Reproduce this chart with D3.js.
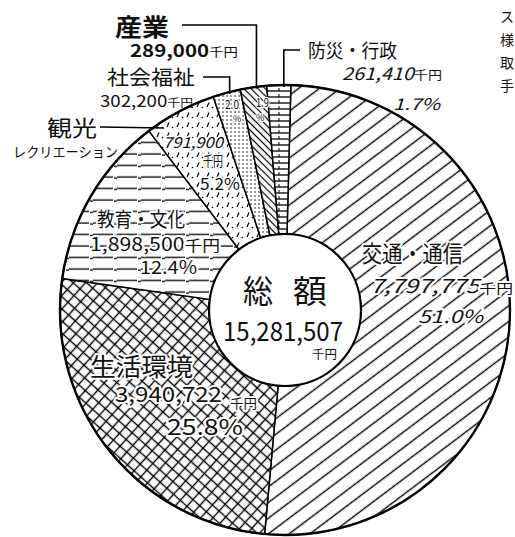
<!DOCTYPE html>
<html>
<head>
<meta charset="utf-8">
<script src="https://cdn.jsdelivr.net/npm/d3@7"></script>
<style>
  html, body { margin: 0; padding: 0; background: #fff; }
  svg { display: block; }
  text { font-family: "Noto Sans CJK JP", "Noto Sans CJK SC", sans-serif; fill: #111; }
</style>
</head>
<body>
<svg id="chart" width="515" height="537"></svg>
<script>
// ---- data ----
const categories = ["交通・通信", "生活環境", "教育・文化", "観光レクリエーション", "社会福祉", "産業", "防災・行政"];
const amounts = [7797775, 3940722, 1898500, 791900, 302200, 289000, 261410];
const percents = [51.0, 25.8, 12.4, 5.2, 2.0, 1.9, 1.7];
const totalLabel = "総額";
const totalAmount = 15281507;
const unit = "千円";

// ---- layout ----
const W = 515, H = 537;
const cx = 285, cy = 310, R = 225, r0 = 76;
const offset = 1.5 * Math.PI / 180;
const patterns = ["p-diag", "p-cross", "p-horiz", "p-dash", "p-dots", "p-back", "p-ladder"];

const svg = d3.select("#chart");
svg.append("rect").attr("width", W).attr("height", H).attr("fill", "#fff");
const defs = svg.append("defs");

function linePattern(id, spacing, angle, width) {
  const p = defs.append("pattern").attr("id", id)
    .attr("patternUnits", "userSpaceOnUse")
    .attr("width", spacing).attr("height", spacing)
    .attr("patternTransform", `rotate(${angle})`);
  p.append("rect").attr("width", spacing).attr("height", spacing).attr("fill", "#fff");
  p.append("line").attr("x1", 0).attr("y1", spacing / 2).attr("x2", spacing).attr("y2", spacing / 2)
    .attr("stroke", "#000").attr("stroke-width", width);
  return p;
}
linePattern("p-diag", 12.5, -37, 1.4);
{
  const s = 9;
  const p = defs.append("pattern").attr("id", "p-cross").attr("patternUnits", "userSpaceOnUse")
    .attr("width", s).attr("height", s).attr("patternTransform", "rotate(42)");
  p.append("rect").attr("width", s).attr("height", s).attr("fill", "#fff");
  p.append("line").attr("x1", 0).attr("y1", s / 2).attr("x2", s).attr("y2", s / 2).attr("stroke", "#000").attr("stroke-width", 1.4);
  p.append("line").attr("x1", s / 2).attr("y1", 0).attr("x2", s / 2).attr("y2", s).attr("stroke", "#000").attr("stroke-width", 1.4);
}
{
  const w = 24, h = 11.5;
  const p = defs.append("pattern").attr("id", "p-horiz").attr("patternUnits", "userSpaceOnUse")
    .attr("width", w).attr("height", h);
  p.append("rect").attr("width", w).attr("height", h).attr("fill", "#fff");
  p.append("line").attr("x1", 0).attr("y1", 5).attr("x2", 20).attr("y2", 5).attr("stroke", "#000").attr("stroke-width", 1.3);
  p.append("line").attr("x1", 21).attr("y1", 6).attr("x2", 24).attr("y2", 6).attr("stroke", "#000").attr("stroke-width", 1.3);
}
{
  const s = 10;
  const p = defs.append("pattern").attr("id", "p-dash").attr("patternUnits", "userSpaceOnUse")
    .attr("width", s).attr("height", s);
  p.append("rect").attr("width", s).attr("height", s).attr("fill", "#fff");
  p.append("line").attr("x1", 2).attr("y1", 7).attr("x2", 4).attr("y2", 2.5).attr("stroke", "#000").attr("stroke-width", 1.2);
  p.append("circle").attr("cx", 7.5).attr("cy", 7.5).attr("r", 0.8).attr("fill", "#000");
}
{
  const s = 4;
  const p = defs.append("pattern").attr("id", "p-dots").attr("patternUnits", "userSpaceOnUse")
    .attr("width", s).attr("height", s);
  p.append("rect").attr("width", s).attr("height", s).attr("fill", "#fff");
  p.append("circle").attr("cx", 2).attr("cy", 2).attr("r", 0.75).attr("fill", "#000");
}
linePattern("p-back", 5, 45, 1.2);
{
  const s = 6;
  const p = defs.append("pattern").attr("id", "p-ladder").attr("patternUnits", "userSpaceOnUse")
    .attr("width", 12).attr("height", s);
  p.append("rect").attr("width", 12).attr("height", s).attr("fill", "#fff");
  p.append("line").attr("x1", 0).attr("y1", 3).attr("x2", 12).attr("y2", 3).attr("stroke", "#000").attr("stroke-width", 1.3);
  p.append("line").attr("x1", 6).attr("y1", 0).attr("x2", 6).attr("y2", 3).attr("stroke", "#000").attr("stroke-width", 1);
}

const data = categories.map((c, i) => ({ cat: c, amount: amounts[i], pct: percents[i], pat: patterns[i] }));
const pie = d3.pie().sort(null).value(d => d.amount).startAngle(offset).endAngle(offset + 2 * Math.PI);
const arcs = pie(data);
const arc = d3.arc().innerRadius(r0).outerRadius(R);

const g = svg.append("g").attr("transform", `translate(${cx},${cy})`);
g.selectAll("path.slice").data(arcs).join("path")
  .attr("class", "slice")
  .attr("d", arc)
  .attr("fill", d => `url(#${d.data.pat})`)
  .attr("stroke", "#000").attr("stroke-width", 1.5);
g.append("circle").attr("r", R).attr("fill", "none").attr("stroke", "#000").attr("stroke-width", 2.4);
g.append("circle").attr("r", r0).attr("fill", "#fff").attr("stroke", "#000").attr("stroke-width", 2.2);

// ---- leader lines ----
const fmt = d3.format(",");
const midX = a => cx + R * Math.sin((a.startAngle + a.endAngle) / 2);
const edgeY = x => cy - Math.sqrt(R * R - (x - cx) * (x - cx));
const leaders = svg.append("g").attr("fill", "none").attr("stroke", "#000").attr("stroke-width", 1.6);
{
  const a = arcs[5]; const x = midX(a) + 3;
  leaders.append("path").attr("d", `M182,25 H${x} V${edgeY(x) + 2}`);
}
{
  const a = arcs[4]; const x = midX(a) + 3;
  leaders.append("path").attr("d", `M203,77 H${x} V${edgeY(x) + 2}`);
}
{
  const a = arcs[6]; const x = midX(a) + 5;
  leaders.append("path").attr("d", `M300,50 H${x} V${edgeY(x) + 2}`);
}
{
  const y = 127; const x = cx - Math.sqrt(R * R - (y - cy) * (y - cy));
  leaders.append("path").attr("d", `M100,${y} L${x + 10},${y + 1}`);
}

// ---- labels ----
const labels = svg.append("g");
function label(parts, x, y, opts = {}) {
  const t = labels.append("text").attr("x", x).attr("y", y)
    .attr("stroke", "#fff").attr("stroke-width", opts.halo == null ? 4 : opts.halo)
    .attr("paint-order", "stroke").attr("stroke-linejoin", "round");
  if (opts.anchor) t.attr("text-anchor", opts.anchor);
  parts.forEach(p => {
    const s = t.append("tspan").text(p.t).attr("font-size", p.size)
      .attr("font-weight", p.bold ? 700 : 400);
    if (p.italic) s.attr("font-style", "italic");
  });
  if (opts.len) t.attr("textLength", opts.len).attr("lengthAdjust", "spacingAndGlyphs");
  return t;
}
const pctText = v => v.toFixed(1) + "%";
const catText = i => categories[i];

// 産業
label([{ t: catText(5), size: 24, bold: true }], 115, 36, { len: 54, halo: 0 });
label([{ t: fmt(amounts[5]), size: 17, bold: true }, { t: unit, size: 12 }], 130, 57, { len: 108, halo: 0 });
// 社会福祉
label([{ t: catText(4), size: 20 }], 107, 85, { len: 88, halo: 0 });
label([{ t: fmt(amounts[4]), size: 16 }, { t: unit, size: 11 }], 100, 107, { len: 93, halo: 0 });
// 観光
label([{ t: "観光", size: 22 }], 47, 136, { len: 50, halo: 0 });
label([{ t: "レクリエーション", size: 14 }], 13, 157, { len: 105, halo: 0 });
label([{ t: fmt(amounts[3]), size: 15, italic: true }], 163, 148, { len: 60, halo: 3 });
label([{ t: unit, size: 14 }], 203, 166, { len: 20, halo: 3 });
label([{ t: pctText(percents[3]), size: 16 }], 200, 190, { len: 40, halo: 3 });
// small slices
label([{ t: pctText(percents[4]).replace("%", ""), size: 12 }], 225, 109, { halo: 2.5, len: 14 });
label([{ t: "%", size: 9 }], 233, 122, { halo: 2 });
label([{ t: pctText(percents[5]).replace("%", ""), size: 12 }], 256, 107, { halo: 2.5, len: 13 });
label([{ t: "%", size: 9 }], 256, 121, { halo: 2 });
// 防災・行政
label([{ t: catText(6), size: 19 }], 308, 58, { len: 89, halo: 0 });
label([{ t: fmt(amounts[6]), size: 17, italic: true }, { t: unit, size: 12 }], 342, 80, { len: 100, halo: 0 });
label([{ t: pctText(percents[6]), size: 16, italic: true }], 393, 110, { len: 47, halo: 0 });
// 教育・文化
label([{ t: catText(2), size: 20 }], 97, 227, { len: 88 });
label([{ t: fmt(amounts[2]), size: 18 }, { t: unit, size: 15 }], 90, 251, { len: 130 });
label([{ t: pctText(percents[2]), size: 18 }], 140, 274, { len: 57 });
// 生活環境
label([{ t: catText(1), size: 25 }], 90, 376, { len: 103 });
label([{ t: fmt(amounts[1]), size: 21 }], 115, 402, { len: 107 });
label([{ t: unit, size: 13 }], 230, 408, { len: 27 });
label([{ t: pctText(percents[1]), size: 22 }], 167, 435, { len: 76 });
// 交通・通信
label([{ t: catText(0), size: 23 }], 362, 262, { len: 101 });
label([{ t: fmt(amounts[0]), size: 19, italic: true }, { t: unit, size: 13 }], 370, 293, { len: 143 });
label([{ t: pctText(percents[0]), size: 18, italic: true }], 418, 323, { len: 65 });
// 総額
label([{ t: totalLabel[0], size: 32 }], 243, 303, { len: 30, halo: 0 });
label([{ t: totalLabel[1], size: 32 }], 293, 303, { len: 34, halo: 0 });
label([{ t: fmt(totalAmount), size: 26 }], 223, 341, { len: 120, halo: 0 });
label([{ t: unit, size: 12 }], 312, 359, { len: 25, halo: 0 });

// partly visible text at the right margin
const marginChars = ["ス", "様", "取", "手"];
svg.append("g").selectAll("text").data(marginChars).join("text")
  .attr("x", 500).attr("y", (d, i) => [22, 45, 68, 91][i])
  .attr("font-size", 14).text(d => d);
</script>
</body>
</html>
